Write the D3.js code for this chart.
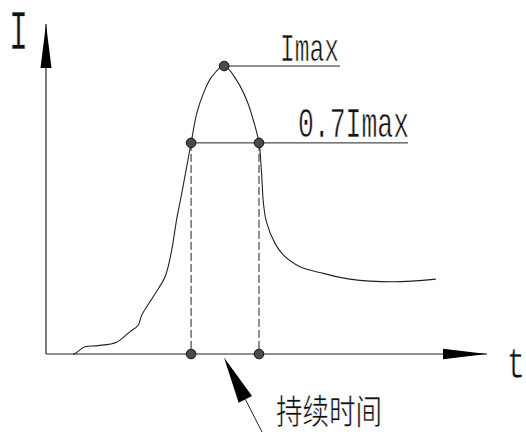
<!DOCTYPE html>
<html>
<head>
<meta charset="utf-8">
<script src="https://cdn.jsdelivr.net/npm/d3@7"></script>
<style>
  body { margin: 0; background: #fff; }
  svg { display: block; }
  .lbl { font-family: "Liberation Mono", monospace; fill: #111; stroke: #fff; stroke-width: 0.6; }
  .cjk { font-family: "Noto Sans CJK SC", sans-serif; fill: #111; stroke: #fff; stroke-width: 0.5; }
</style>
</head>
<body>
<div id="chart"></div>
<script>
// pulse curve, t in arbitrary units, I relative to Imax
const pulseT = [6.1, 6.7, 8.8, 11.8, 16.0, 19.0, 20.9, 21.7, 24.3, 27.0, 28.5, 29.6, 30.8, 31.9,
                32.9, 34.2, 35.7, 37.6, 40.4, 43.2, 45.5, 47.0, 48.3, 48.9, 49.3, 50.0, 51.9,
                53.8, 57.6, 62.9, 68.9, 78.8, 88.4];
const pulseI = [0, 0.003, 0.025, 0.029, 0.041, 0.077, 0.10, 0.135, 0.199, 0.268, 0.361, 0.465, 0.559, 0.650,
                0.733, 0.836, 0.905, 0.963, 1.0, 0.951, 0.882, 0.8125, 0.733, 0.622, 0.524, 0.458, 0.385,
                0.344, 0.303, 0.280, 0.260, 0.251, 0.260];

const peakT = 40.4, peakI = 1.0;
const levelI = 0.733;            // the "0.7 Imax" level
const crossT = [32.9, 48.3];     // where the curve crosses the level
const labelAxisY = "I", labelAxisX = "t";
const labelMax = "Imax", labelLevel = "0.7Imax", labelDur = "持续时间";

const W = 526, H = 432;
const svg = d3.select("#chart").append("svg").attr("width", W).attr("height", H);

const x = d3.scaleLinear().domain([0, 100]).range([46, 487]);
const y = d3.scaleLinear().domain([0, 1]).range([354, 66]);
const axisTopI = y.invert(24);

const ink = "#222";

// axes
svg.append("line").attr("x1", x(0)).attr("y1", y(0)).attr("x2", x(0)).attr("y2", y(axisTopI))
    .attr("stroke", ink).attr("stroke-width", 1.2);
svg.append("line").attr("x1", x(0)).attr("y1", y(0)).attr("x2", x(100)).attr("y2", y(0))
    .attr("stroke", ink).attr("stroke-width", 1.2);

// arrow heads of the axes
svg.append("path")
    .attr("d", `M${x(0)},${y(axisTopI)} L${x(0) + 5.5},${y(axisTopI) + 44} L${x(0) - 5.5},${y(axisTopI) + 44}Z`)
    .attr("fill", "#000");
svg.append("path")
    .attr("d", `M${x(100)},${y(0)} L${x(100) - 44},${y(0) - 5.3} L${x(100) - 44},${y(0) + 5.3}Z`)
    .attr("fill", "#000");

// level lines
svg.append("line").attr("x1", x(peakT)).attr("y1", y(peakI)).attr("x2", 340).attr("y2", y(peakI))
    .attr("stroke", ink).attr("stroke-width", 1);
svg.append("line").attr("x1", x(crossT[0])).attr("y1", y(levelI)).attr("x2", 408).attr("y2", y(levelI))
    .attr("stroke", ink).attr("stroke-width", 1);

// dashed drops
svg.selectAll(".drop").data(crossT).join("line")
    .attr("class", "drop")
    .attr("x1", d => x(d)).attr("x2", d => x(d))
    .attr("y1", y(levelI)).attr("y2", y(0))
    .attr("stroke", ink).attr("stroke-width", 1)
    .attr("stroke-dasharray", "8,3");

// curve
const pts = pulseT.map((t, i) => [t, pulseI[i]]);
const line = d3.line().x(d => x(d[0])).y(d => y(d[1])).curve(d3.curveCatmullRom.alpha(0.5));
svg.append("path").attr("d", line(pts))
    .attr("fill", "none").attr("stroke", ink).attr("stroke-width", 1.1);

// dots
const dots = [[peakT, peakI], [crossT[0], levelI], [crossT[1], levelI], [crossT[0], 0], [crossT[1], 0]];
svg.selectAll(".dot").data(dots).join("circle")
    .attr("class", "dot")
    .attr("cx", d => x(d[0])).attr("cy", d => y(d[1])).attr("r", 4.8)
    .attr("fill", "#4a4a4a").attr("stroke", "#111").attr("stroke-width", 1);

// pointer arrow to the duration
const tip = [224, 357.5], tail = [262, 432];
const ang = Math.atan2(tail[1] - tip[1], tail[0] - tip[0]);
const hl = 47, hw = 7.5;
const bx = tip[0] + hl * Math.cos(ang), by = tip[1] + hl * Math.sin(ang);
svg.append("line").attr("x1", bx).attr("y1", by).attr("x2", tail[0]).attr("y2", tail[1])
    .attr("stroke", ink).attr("stroke-width", 1);
svg.append("path")
    .attr("d", `M${tip[0]},${tip[1]} L${bx - hw * Math.sin(ang)},${by + hw * Math.cos(ang)} L${bx + hw * Math.sin(ang)},${by - hw * Math.cos(ang)}Z`)
    .attr("fill", "#000");

// labels
svg.append("text").attr("class", "lbl").attr("x", 9).attr("y", 49)
    .attr("font-size", 55).attr("textLength", 19).attr("lengthAdjust", "spacingAndGlyphs")
    .text(labelAxisY);
svg.append("text").attr("class", "lbl").attr("x", 507).attr("y", 378)
    .attr("font-size", 44).attr("textLength", 18).attr("lengthAdjust", "spacingAndGlyphs")
    .text(labelAxisX);
svg.append("text").attr("class", "lbl").attr("x", 280).attr("y", 61)
    .attr("font-size", 38).attr("textLength", 59).attr("lengthAdjust", "spacingAndGlyphs")
    .text(labelMax);
svg.append("text").attr("class", "lbl").attr("x", 298).attr("y", 137)
    .attr("font-size", 43).attr("textLength", 111).attr("lengthAdjust", "spacingAndGlyphs")
    .text(labelLevel);
svg.append("text").attr("class", "cjk").attr("x", 276).attr("y", 424)
    .attr("font-size", 34).attr("textLength", 106).attr("lengthAdjust", "spacingAndGlyphs")
    .text(labelDur);
</script>
</body>
</html>
